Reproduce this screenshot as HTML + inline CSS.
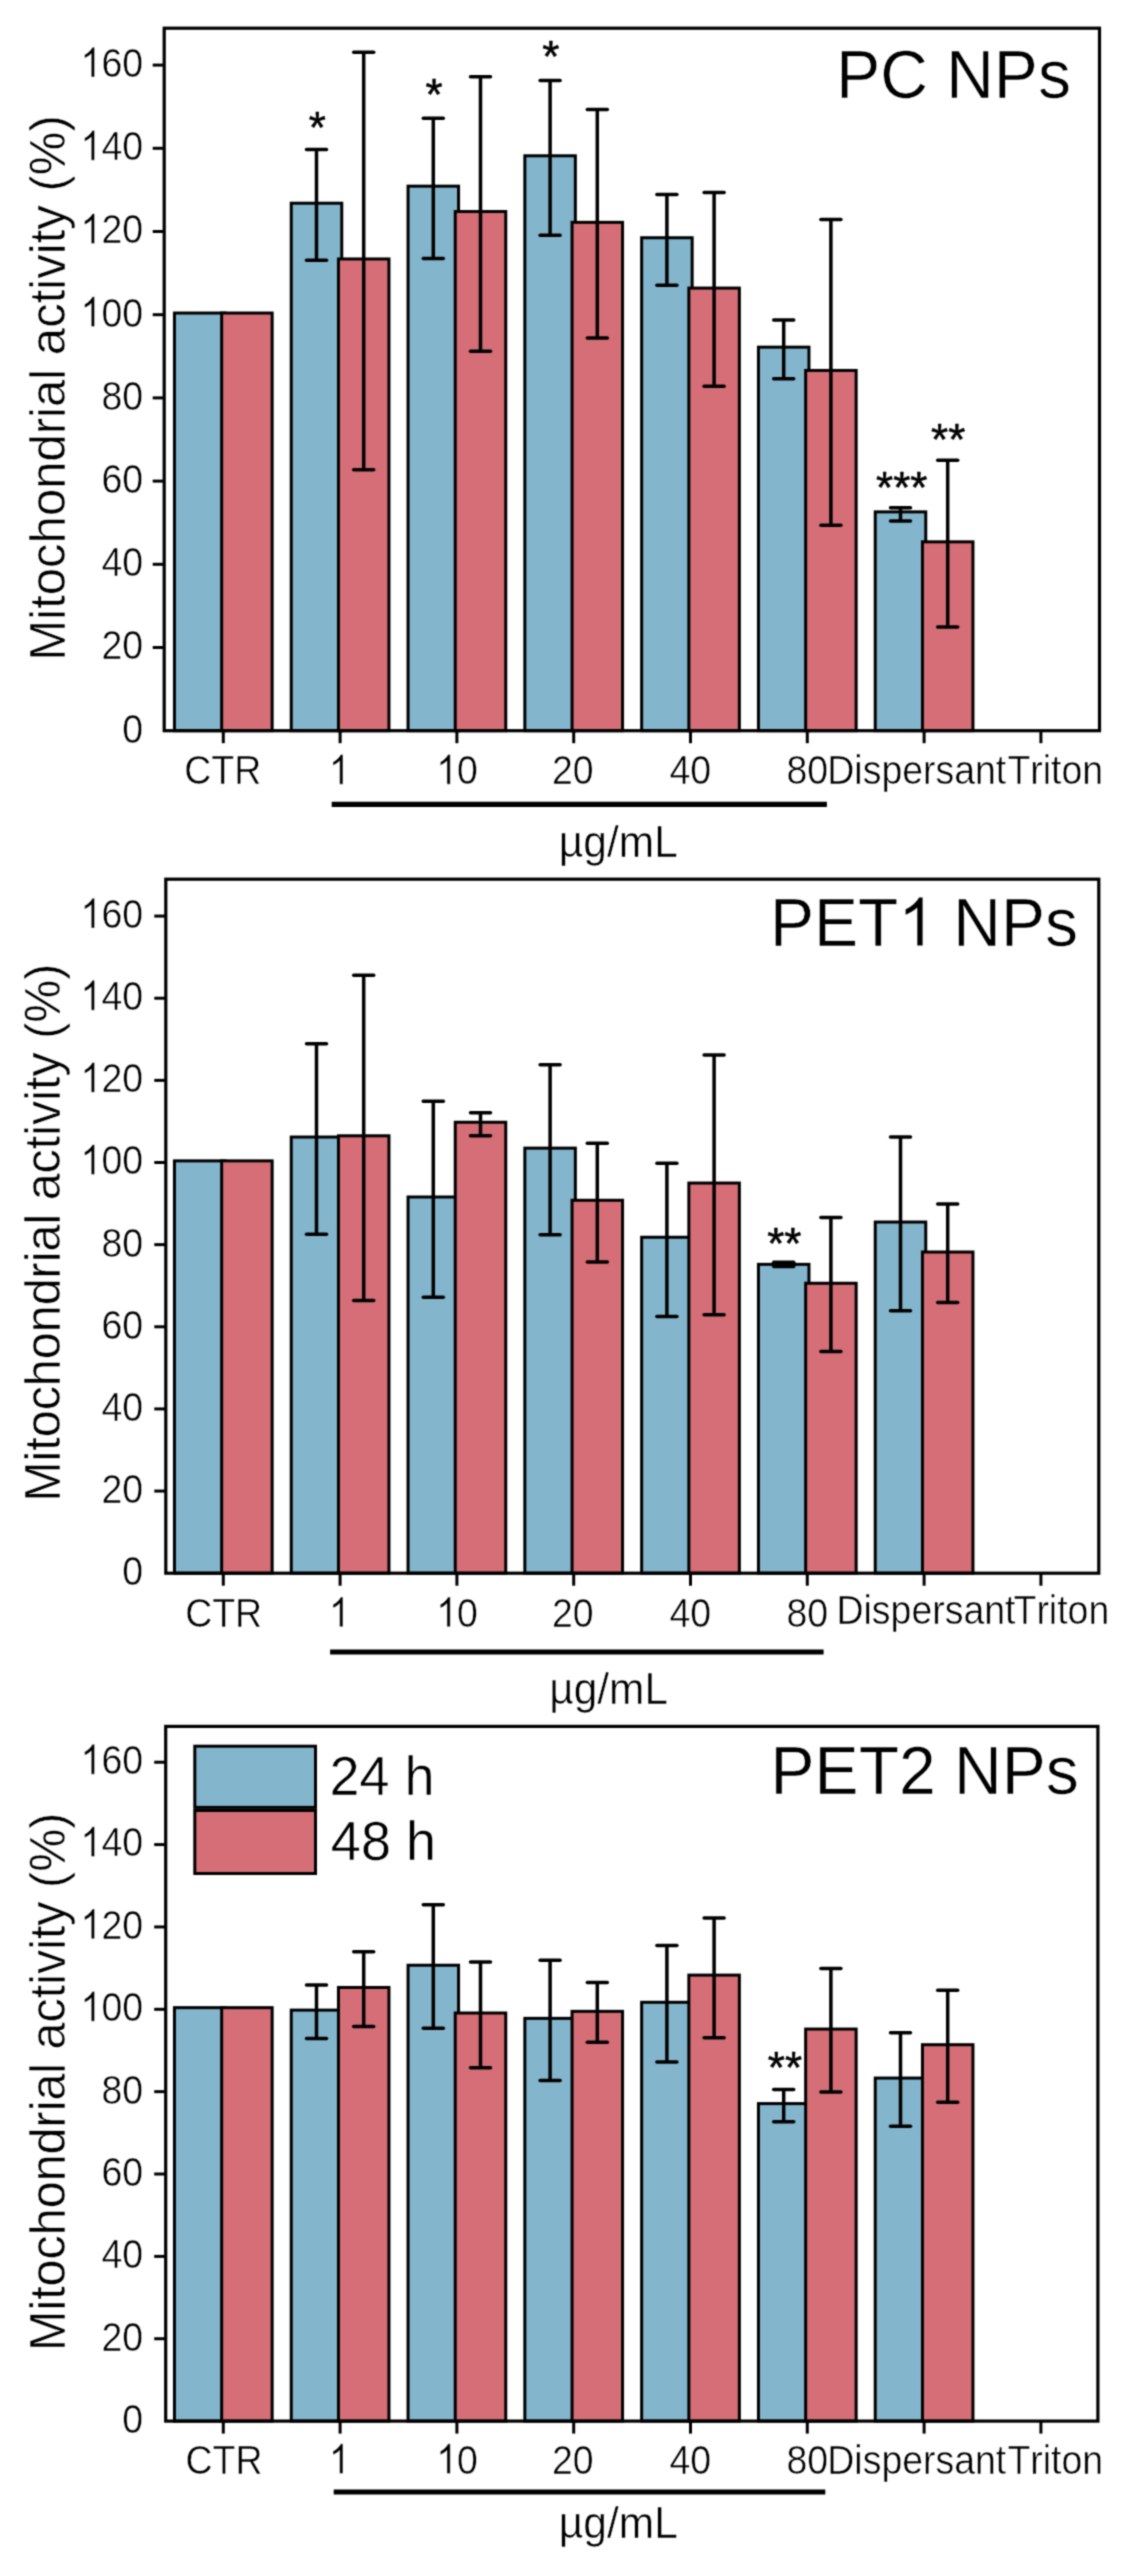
<!DOCTYPE html>
<html><head><meta charset="utf-8"><style>
html,body{margin:0;padding:0;background:#fff;}
svg{display:block;will-change:transform;}
text{font-family:"Liberation Sans", sans-serif;font-kerning:none;fill:#000;white-space:pre;}
</style></head><body>
<svg width="1128" height="2573" viewBox="0 0 1128 2573">
<defs><filter id="soft" x="0" y="0" width="1128" height="2573" filterUnits="userSpaceOnUse" color-interpolation-filters="sRGB"><feConvolveMatrix order="3" kernelMatrix="0.04000 0.12000 0.04000 0.12000 0.36000 0.12000 0.04000 0.12000 0.04000" divisor="1" edgeMode="duplicate" preserveAlpha="true"/></filter></defs>
<g filter="url(#soft)">
<rect width="1128" height="2573" fill="#fff"/>

<rect x="174.45" y="313.04" width="50.50" height="417.66" fill="#83b5cc" stroke="#000" stroke-width="3"/>
<rect x="221.65" y="313.04" width="50.50" height="417.66" fill="#d56e77" stroke="#000" stroke-width="3"/>
<rect x="291.25" y="203.21" width="50.50" height="527.49" fill="#83b5cc" stroke="#000" stroke-width="3"/>
<rect x="338.45" y="258.96" width="50.50" height="471.74" fill="#d56e77" stroke="#000" stroke-width="3"/>
<rect x="408.05" y="186.16" width="50.50" height="544.54" fill="#83b5cc" stroke="#000" stroke-width="3"/>
<rect x="455.25" y="211.53" width="50.50" height="519.17" fill="#d56e77" stroke="#000" stroke-width="3"/>
<rect x="524.85" y="155.79" width="50.50" height="574.91" fill="#83b5cc" stroke="#000" stroke-width="3"/>
<rect x="572.05" y="222.35" width="50.50" height="508.35" fill="#d56e77" stroke="#000" stroke-width="3"/>
<rect x="641.65" y="237.74" width="50.50" height="492.96" fill="#83b5cc" stroke="#000" stroke-width="3"/>
<rect x="688.85" y="288.08" width="50.50" height="442.62" fill="#d56e77" stroke="#000" stroke-width="3"/>
<rect x="758.45" y="347.15" width="50.50" height="383.55" fill="#83b5cc" stroke="#000" stroke-width="3"/>
<rect x="805.65" y="370.44" width="50.50" height="360.26" fill="#d56e77" stroke="#000" stroke-width="3"/>
<rect x="875.25" y="511.88" width="50.50" height="218.82" fill="#83b5cc" stroke="#000" stroke-width="3"/>
<rect x="922.45" y="541.84" width="50.50" height="188.86" fill="#d56e77" stroke="#000" stroke-width="3"/>
<line x1="316.50" y1="260.20" x2="316.50" y2="149.55" stroke="#000" stroke-width="3.5" stroke-linecap="butt"/>
<line x1="306.50" y1="260.20" x2="326.50" y2="260.20" stroke="#000" stroke-width="3.5" stroke-linecap="round"/>
<line x1="306.50" y1="149.55" x2="326.50" y2="149.55" stroke="#000" stroke-width="3.5" stroke-linecap="round"/>
<line x1="363.70" y1="469.87" x2="363.70" y2="52.20" stroke="#000" stroke-width="3.5" stroke-linecap="butt"/>
<line x1="353.70" y1="469.87" x2="373.70" y2="469.87" stroke="#000" stroke-width="3.5" stroke-linecap="round"/>
<line x1="353.70" y1="52.20" x2="373.70" y2="52.20" stroke="#000" stroke-width="3.5" stroke-linecap="round"/>
<line x1="433.30" y1="258.54" x2="433.30" y2="118.35" stroke="#000" stroke-width="3.5" stroke-linecap="butt"/>
<line x1="423.30" y1="258.54" x2="443.30" y2="258.54" stroke="#000" stroke-width="3.5" stroke-linecap="round"/>
<line x1="423.30" y1="118.35" x2="443.30" y2="118.35" stroke="#000" stroke-width="3.5" stroke-linecap="round"/>
<line x1="480.50" y1="351.31" x2="480.50" y2="76.75" stroke="#000" stroke-width="3.5" stroke-linecap="butt"/>
<line x1="470.50" y1="351.31" x2="490.50" y2="351.31" stroke="#000" stroke-width="3.5" stroke-linecap="round"/>
<line x1="470.50" y1="76.75" x2="490.50" y2="76.75" stroke="#000" stroke-width="3.5" stroke-linecap="round"/>
<line x1="550.10" y1="235.24" x2="550.10" y2="80.49" stroke="#000" stroke-width="3.5" stroke-linecap="butt"/>
<line x1="540.10" y1="235.24" x2="560.10" y2="235.24" stroke="#000" stroke-width="3.5" stroke-linecap="round"/>
<line x1="540.10" y1="80.49" x2="560.10" y2="80.49" stroke="#000" stroke-width="3.5" stroke-linecap="round"/>
<line x1="597.30" y1="338.00" x2="597.30" y2="109.61" stroke="#000" stroke-width="3.5" stroke-linecap="butt"/>
<line x1="587.30" y1="338.00" x2="607.30" y2="338.00" stroke="#000" stroke-width="3.5" stroke-linecap="round"/>
<line x1="587.30" y1="109.61" x2="607.30" y2="109.61" stroke="#000" stroke-width="3.5" stroke-linecap="round"/>
<line x1="666.90" y1="285.16" x2="666.90" y2="194.48" stroke="#000" stroke-width="3.5" stroke-linecap="butt"/>
<line x1="656.90" y1="285.16" x2="676.90" y2="285.16" stroke="#000" stroke-width="3.5" stroke-linecap="round"/>
<line x1="656.90" y1="194.48" x2="676.90" y2="194.48" stroke="#000" stroke-width="3.5" stroke-linecap="round"/>
<line x1="714.10" y1="386.25" x2="714.10" y2="192.40" stroke="#000" stroke-width="3.5" stroke-linecap="butt"/>
<line x1="704.10" y1="386.25" x2="724.10" y2="386.25" stroke="#000" stroke-width="3.5" stroke-linecap="round"/>
<line x1="704.10" y1="192.40" x2="724.10" y2="192.40" stroke="#000" stroke-width="3.5" stroke-linecap="round"/>
<line x1="783.70" y1="378.76" x2="783.70" y2="320.11" stroke="#000" stroke-width="3.5" stroke-linecap="butt"/>
<line x1="773.70" y1="378.76" x2="793.70" y2="378.76" stroke="#000" stroke-width="3.5" stroke-linecap="round"/>
<line x1="773.70" y1="320.11" x2="793.70" y2="320.11" stroke="#000" stroke-width="3.5" stroke-linecap="round"/>
<line x1="830.90" y1="525.20" x2="830.90" y2="219.44" stroke="#000" stroke-width="3.5" stroke-linecap="butt"/>
<line x1="820.90" y1="525.20" x2="840.90" y2="525.20" stroke="#000" stroke-width="3.5" stroke-linecap="round"/>
<line x1="820.90" y1="219.44" x2="840.90" y2="219.44" stroke="#000" stroke-width="3.5" stroke-linecap="round"/>
<line x1="900.50" y1="521.04" x2="900.50" y2="507.72" stroke="#000" stroke-width="3.5" stroke-linecap="butt"/>
<line x1="890.50" y1="521.04" x2="910.50" y2="521.04" stroke="#000" stroke-width="3.5" stroke-linecap="round"/>
<line x1="890.50" y1="507.72" x2="910.50" y2="507.72" stroke="#000" stroke-width="3.5" stroke-linecap="round"/>
<line x1="947.70" y1="627.12" x2="947.70" y2="460.30" stroke="#000" stroke-width="3.5" stroke-linecap="butt"/>
<line x1="937.70" y1="627.12" x2="957.70" y2="627.12" stroke="#000" stroke-width="3.5" stroke-linecap="round"/>
<line x1="937.70" y1="460.30" x2="957.70" y2="460.30" stroke="#000" stroke-width="3.5" stroke-linecap="round"/>
<rect x="164.20" y="28.20" width="935.30" height="702.50" fill="none" stroke="#000" stroke-width="3.2"/>
<line x1="152.70" y1="647.50" x2="164.20" y2="647.50" stroke="#000" stroke-width="3" stroke-linecap="butt"/>
<line x1="152.70" y1="564.30" x2="164.20" y2="564.30" stroke="#000" stroke-width="3" stroke-linecap="butt"/>
<line x1="152.70" y1="481.10" x2="164.20" y2="481.10" stroke="#000" stroke-width="3" stroke-linecap="butt"/>
<line x1="152.70" y1="397.90" x2="164.20" y2="397.90" stroke="#000" stroke-width="3" stroke-linecap="butt"/>
<line x1="152.70" y1="314.70" x2="164.20" y2="314.70" stroke="#000" stroke-width="3" stroke-linecap="butt"/>
<line x1="152.70" y1="231.50" x2="164.20" y2="231.50" stroke="#000" stroke-width="3" stroke-linecap="butt"/>
<line x1="152.70" y1="148.30" x2="164.20" y2="148.30" stroke="#000" stroke-width="3" stroke-linecap="butt"/>
<line x1="152.70" y1="65.10" x2="164.20" y2="65.10" stroke="#000" stroke-width="3" stroke-linecap="butt"/>
<text transform="translate(122.23,742.61) scale(0.927,1.025)" font-size="40.4" stroke="#fff" stroke-width="0.5">0</text>
<text transform="translate(101.41,659.41) scale(0.927,1.025)" font-size="40.4" stroke="#fff" stroke-width="0.5">20</text>
<text transform="translate(101.41,576.21) scale(0.927,1.025)" font-size="40.4" stroke="#fff" stroke-width="0.5">40</text>
<text transform="translate(101.41,493.01) scale(0.927,1.025)" font-size="40.4" stroke="#fff" stroke-width="0.5">60</text>
<text transform="translate(101.41,409.81) scale(0.927,1.025)" font-size="40.4" stroke="#fff" stroke-width="0.5">80</text>
<g transform="translate(80.58,326.61) scale(37.4508,41.4100)" stroke="#fff" stroke-width="0.01238"><text x="0.5562" y="0" font-size="1">00</text><path d="M0.3730,0.0000 L0.2850,0.0000 L0.2850,-0.5600 Q0.2530,-0.5300 0.2010,-0.4990 Q0.1490,-0.4690 0.1080,-0.4540 L0.1080,-0.5390 Q0.1820,-0.5740 0.2370,-0.6230 Q0.2920,-0.6720 0.3150,-0.7190 L0.3730,-0.7190Z"/></g>
<g transform="translate(80.58,243.41) scale(37.4508,41.4100)" stroke="#fff" stroke-width="0.01238"><text x="0.5562" y="0" font-size="1">20</text><path d="M0.3730,0.0000 L0.2850,0.0000 L0.2850,-0.5600 Q0.2530,-0.5300 0.2010,-0.4990 Q0.1490,-0.4690 0.1080,-0.4540 L0.1080,-0.5390 Q0.1820,-0.5740 0.2370,-0.6230 Q0.2920,-0.6720 0.3150,-0.7190 L0.3730,-0.7190Z"/></g>
<g transform="translate(80.58,160.21) scale(37.4508,41.4100)" stroke="#fff" stroke-width="0.01238"><text x="0.5562" y="0" font-size="1">40</text><path d="M0.3730,0.0000 L0.2850,0.0000 L0.2850,-0.5600 Q0.2530,-0.5300 0.2010,-0.4990 Q0.1490,-0.4690 0.1080,-0.4540 L0.1080,-0.5390 Q0.1820,-0.5740 0.2370,-0.6230 Q0.2920,-0.6720 0.3150,-0.7190 L0.3730,-0.7190Z"/></g>
<g transform="translate(80.58,77.01) scale(37.4508,41.4100)" stroke="#fff" stroke-width="0.01238"><text x="0.5562" y="0" font-size="1">60</text><path d="M0.3730,0.0000 L0.2850,0.0000 L0.2850,-0.5600 Q0.2530,-0.5300 0.2010,-0.4990 Q0.1490,-0.4690 0.1080,-0.4540 L0.1080,-0.5390 Q0.1820,-0.5740 0.2370,-0.6230 Q0.2920,-0.6720 0.3150,-0.7190 L0.3730,-0.7190Z"/></g>
<line x1="223.30" y1="730.70" x2="223.30" y2="743.20" stroke="#000" stroke-width="3" stroke-linecap="butt"/>
<line x1="340.10" y1="730.70" x2="340.10" y2="743.20" stroke="#000" stroke-width="3" stroke-linecap="butt"/>
<line x1="456.90" y1="730.70" x2="456.90" y2="743.20" stroke="#000" stroke-width="3" stroke-linecap="butt"/>
<line x1="573.70" y1="730.70" x2="573.70" y2="743.20" stroke="#000" stroke-width="3" stroke-linecap="butt"/>
<line x1="690.50" y1="730.70" x2="690.50" y2="743.20" stroke="#000" stroke-width="3" stroke-linecap="butt"/>
<line x1="807.30" y1="730.70" x2="807.30" y2="743.20" stroke="#000" stroke-width="3" stroke-linecap="butt"/>
<line x1="924.10" y1="730.70" x2="924.10" y2="743.20" stroke="#000" stroke-width="3" stroke-linecap="butt"/>
<line x1="1040.90" y1="730.70" x2="1040.90" y2="743.20" stroke="#000" stroke-width="3" stroke-linecap="butt"/>
<text transform="translate(184.33,784.20) scale(0.927,1.025)" font-size="40.4" stroke="#fff" stroke-width="0.5">CTR</text>
<g transform="translate(328.97,784.20) scale(37.4508,41.4100)" stroke="#fff" stroke-width="0.01238"><path d="M0.3730,0.0000 L0.2850,0.0000 L0.2850,-0.5600 Q0.2530,-0.5300 0.2010,-0.4990 Q0.1490,-0.4690 0.1080,-0.4540 L0.1080,-0.5390 Q0.1820,-0.5740 0.2370,-0.6230 Q0.2920,-0.6720 0.3150,-0.7190 L0.3730,-0.7190Z"/></g>
<g transform="translate(436.28,784.20) scale(37.4508,41.4100)" stroke="#fff" stroke-width="0.01238"><text x="0.5562" y="0" font-size="1">0</text><path d="M0.3730,0.0000 L0.2850,0.0000 L0.2850,-0.5600 Q0.2530,-0.5300 0.2010,-0.4990 Q0.1490,-0.4690 0.1080,-0.4540 L0.1080,-0.5390 Q0.1820,-0.5740 0.2370,-0.6230 Q0.2920,-0.6720 0.3150,-0.7190 L0.3730,-0.7190Z"/></g>
<text transform="translate(551.96,784.20) scale(0.927,1.025)" font-size="40.4" stroke="#fff" stroke-width="0.5">20</text>
<text transform="translate(669.47,784.20) scale(0.927,1.025)" font-size="40.4" stroke="#fff" stroke-width="0.5">40</text>
<text transform="translate(786.39,784.20) scale(0.927,1.025)" font-size="40.4" stroke="#fff" stroke-width="0.5">80</text>
<text transform="translate(827.30,784.20) scale(0.927,1.025)" font-size="40.4" stroke="#fff" stroke-width="0.5">Dispersant</text>
<text transform="translate(1007.43,784.20) scale(0.927,1.025)" font-size="40.4" stroke="#fff" stroke-width="0.5">Triton</text>
<line x1="331.70" y1="804.40" x2="826.90" y2="804.40" stroke="#000" stroke-width="5.2" stroke-linecap="butt"/>
<text transform="translate(558.87,856.60) scale(1.0,1.025)" font-size="42.5" stroke="#fff" stroke-width="0.5">µg/mL</text>
<text transform="translate(836.19,98.30) scale(1.0,1.025)" font-size="66" stroke="#fff" stroke-width="0.5">PC NPs</text>
<text transform="translate(308.63,142.60) scale(1.0,1.025)" font-size="44" stroke="#000" stroke-width="0.5">*</text>
<text transform="translate(425.53,109.60) scale(1.0,1.025)" font-size="44" stroke="#000" stroke-width="0.5">*</text>
<text transform="translate(542.33,71.50) scale(1.0,1.025)" font-size="44" stroke="#000" stroke-width="0.5">*</text>
<text transform="translate(876.10,503.00) scale(1.0,1.025)" font-size="44" stroke="#000" stroke-width="0.5">***</text>
<text transform="translate(931.07,455.40) scale(1.0,1.025)" font-size="44" stroke="#000" stroke-width="0.5">**</text>
<text transform="translate(64.90,660.63) rotate(-90) scale(1,1.025)" font-size="49.08" stroke="#fff" stroke-width="0.5">Mitochondrial activity (%)</text>
<rect x="174.45" y="1160.86" width="50.50" height="412.34" fill="#83b5cc" stroke="#000" stroke-width="3"/>
<rect x="221.65" y="1160.86" width="50.50" height="412.34" fill="#d56e77" stroke="#000" stroke-width="3"/>
<rect x="291.25" y="1137.04" width="50.50" height="436.16" fill="#83b5cc" stroke="#000" stroke-width="3"/>
<rect x="338.45" y="1135.80" width="50.50" height="437.40" fill="#d56e77" stroke="#000" stroke-width="3"/>
<rect x="408.05" y="1197.00" width="50.50" height="376.20" fill="#83b5cc" stroke="#000" stroke-width="3"/>
<rect x="455.25" y="1122.25" width="50.50" height="450.95" fill="#d56e77" stroke="#000" stroke-width="3"/>
<rect x="524.85" y="1148.13" width="50.50" height="425.07" fill="#83b5cc" stroke="#000" stroke-width="3"/>
<rect x="572.05" y="1200.28" width="50.50" height="372.92" fill="#d56e77" stroke="#000" stroke-width="3"/>
<rect x="641.65" y="1237.25" width="50.50" height="335.95" fill="#83b5cc" stroke="#000" stroke-width="3"/>
<rect x="688.85" y="1183.04" width="50.50" height="390.16" fill="#d56e77" stroke="#000" stroke-width="3"/>
<rect x="758.45" y="1264.35" width="50.50" height="308.85" fill="#83b5cc" stroke="#000" stroke-width="3"/>
<rect x="805.65" y="1283.25" width="50.50" height="289.95" fill="#d56e77" stroke="#000" stroke-width="3"/>
<rect x="875.25" y="1222.05" width="50.50" height="351.15" fill="#83b5cc" stroke="#000" stroke-width="3"/>
<rect x="922.45" y="1252.03" width="50.50" height="321.17" fill="#d56e77" stroke="#000" stroke-width="3"/>
<line x1="316.50" y1="1234.37" x2="316.50" y2="1043.81" stroke="#000" stroke-width="3.5" stroke-linecap="butt"/>
<line x1="306.50" y1="1234.37" x2="326.50" y2="1234.37" stroke="#000" stroke-width="3.5" stroke-linecap="round"/>
<line x1="306.50" y1="1043.81" x2="326.50" y2="1043.81" stroke="#000" stroke-width="3.5" stroke-linecap="round"/>
<line x1="363.70" y1="1300.50" x2="363.70" y2="975.22" stroke="#000" stroke-width="3.5" stroke-linecap="butt"/>
<line x1="353.70" y1="1300.50" x2="373.70" y2="1300.50" stroke="#000" stroke-width="3.5" stroke-linecap="round"/>
<line x1="353.70" y1="975.22" x2="373.70" y2="975.22" stroke="#000" stroke-width="3.5" stroke-linecap="round"/>
<line x1="433.30" y1="1297.21" x2="433.30" y2="1101.31" stroke="#000" stroke-width="3.5" stroke-linecap="butt"/>
<line x1="423.30" y1="1297.21" x2="443.30" y2="1297.21" stroke="#000" stroke-width="3.5" stroke-linecap="round"/>
<line x1="423.30" y1="1101.31" x2="443.30" y2="1101.31" stroke="#000" stroke-width="3.5" stroke-linecap="round"/>
<line x1="480.50" y1="1135.80" x2="480.50" y2="1112.81" stroke="#000" stroke-width="3.5" stroke-linecap="butt"/>
<line x1="470.50" y1="1135.80" x2="490.50" y2="1135.80" stroke="#000" stroke-width="3.5" stroke-linecap="round"/>
<line x1="470.50" y1="1112.81" x2="490.50" y2="1112.81" stroke="#000" stroke-width="3.5" stroke-linecap="round"/>
<line x1="550.10" y1="1234.78" x2="550.10" y2="1064.75" stroke="#000" stroke-width="3.5" stroke-linecap="butt"/>
<line x1="540.10" y1="1234.78" x2="560.10" y2="1234.78" stroke="#000" stroke-width="3.5" stroke-linecap="round"/>
<line x1="540.10" y1="1064.75" x2="560.10" y2="1064.75" stroke="#000" stroke-width="3.5" stroke-linecap="round"/>
<line x1="597.30" y1="1261.89" x2="597.30" y2="1143.20" stroke="#000" stroke-width="3.5" stroke-linecap="butt"/>
<line x1="587.30" y1="1261.89" x2="607.30" y2="1261.89" stroke="#000" stroke-width="3.5" stroke-linecap="round"/>
<line x1="587.30" y1="1143.20" x2="607.30" y2="1143.20" stroke="#000" stroke-width="3.5" stroke-linecap="round"/>
<line x1="666.90" y1="1316.51" x2="666.90" y2="1163.32" stroke="#000" stroke-width="3.5" stroke-linecap="butt"/>
<line x1="656.90" y1="1316.51" x2="676.90" y2="1316.51" stroke="#000" stroke-width="3.5" stroke-linecap="round"/>
<line x1="656.90" y1="1163.32" x2="676.90" y2="1163.32" stroke="#000" stroke-width="3.5" stroke-linecap="round"/>
<line x1="714.10" y1="1314.87" x2="714.10" y2="1054.90" stroke="#000" stroke-width="3.5" stroke-linecap="butt"/>
<line x1="704.10" y1="1314.87" x2="724.10" y2="1314.87" stroke="#000" stroke-width="3.5" stroke-linecap="round"/>
<line x1="704.10" y1="1054.90" x2="724.10" y2="1054.90" stroke="#000" stroke-width="3.5" stroke-linecap="round"/>
<line x1="783.70" y1="1266.41" x2="783.70" y2="1262.30" stroke="#000" stroke-width="3.5" stroke-linecap="butt"/>
<line x1="773.70" y1="1266.41" x2="793.70" y2="1266.41" stroke="#000" stroke-width="3.5" stroke-linecap="round"/>
<line x1="773.70" y1="1262.30" x2="793.70" y2="1262.30" stroke="#000" stroke-width="3.5" stroke-linecap="round"/>
<line x1="830.90" y1="1351.42" x2="830.90" y2="1217.53" stroke="#000" stroke-width="3.5" stroke-linecap="butt"/>
<line x1="820.90" y1="1351.42" x2="840.90" y2="1351.42" stroke="#000" stroke-width="3.5" stroke-linecap="round"/>
<line x1="820.90" y1="1217.53" x2="840.90" y2="1217.53" stroke="#000" stroke-width="3.5" stroke-linecap="round"/>
<line x1="900.50" y1="1310.76" x2="900.50" y2="1137.04" stroke="#000" stroke-width="3.5" stroke-linecap="butt"/>
<line x1="890.50" y1="1310.76" x2="910.50" y2="1310.76" stroke="#000" stroke-width="3.5" stroke-linecap="round"/>
<line x1="890.50" y1="1137.04" x2="910.50" y2="1137.04" stroke="#000" stroke-width="3.5" stroke-linecap="round"/>
<line x1="947.70" y1="1302.55" x2="947.70" y2="1203.98" stroke="#000" stroke-width="3.5" stroke-linecap="butt"/>
<line x1="937.70" y1="1302.55" x2="957.70" y2="1302.55" stroke="#000" stroke-width="3.5" stroke-linecap="round"/>
<line x1="937.70" y1="1203.98" x2="957.70" y2="1203.98" stroke="#000" stroke-width="3.5" stroke-linecap="round"/>
<rect x="165.80" y="879.20" width="933.00" height="694.00" fill="none" stroke="#000" stroke-width="3.2"/>
<line x1="154.30" y1="1491.06" x2="165.80" y2="1491.06" stroke="#000" stroke-width="3" stroke-linecap="butt"/>
<line x1="154.30" y1="1408.92" x2="165.80" y2="1408.92" stroke="#000" stroke-width="3" stroke-linecap="butt"/>
<line x1="154.30" y1="1326.78" x2="165.80" y2="1326.78" stroke="#000" stroke-width="3" stroke-linecap="butt"/>
<line x1="154.30" y1="1244.64" x2="165.80" y2="1244.64" stroke="#000" stroke-width="3" stroke-linecap="butt"/>
<line x1="154.30" y1="1162.50" x2="165.80" y2="1162.50" stroke="#000" stroke-width="3" stroke-linecap="butt"/>
<line x1="154.30" y1="1080.36" x2="165.80" y2="1080.36" stroke="#000" stroke-width="3" stroke-linecap="butt"/>
<line x1="154.30" y1="998.22" x2="165.80" y2="998.22" stroke="#000" stroke-width="3" stroke-linecap="butt"/>
<line x1="154.30" y1="916.08" x2="165.80" y2="916.08" stroke="#000" stroke-width="3" stroke-linecap="butt"/>
<text transform="translate(122.23,1585.11) scale(0.927,1.025)" font-size="40.4" stroke="#fff" stroke-width="0.5">0</text>
<text transform="translate(101.41,1502.97) scale(0.927,1.025)" font-size="40.4" stroke="#fff" stroke-width="0.5">20</text>
<text transform="translate(101.41,1420.83) scale(0.927,1.025)" font-size="40.4" stroke="#fff" stroke-width="0.5">40</text>
<text transform="translate(101.41,1338.69) scale(0.927,1.025)" font-size="40.4" stroke="#fff" stroke-width="0.5">60</text>
<text transform="translate(101.41,1256.55) scale(0.927,1.025)" font-size="40.4" stroke="#fff" stroke-width="0.5">80</text>
<g transform="translate(80.58,1174.41) scale(37.4508,41.4100)" stroke="#fff" stroke-width="0.01238"><text x="0.5562" y="0" font-size="1">00</text><path d="M0.3730,0.0000 L0.2850,0.0000 L0.2850,-0.5600 Q0.2530,-0.5300 0.2010,-0.4990 Q0.1490,-0.4690 0.1080,-0.4540 L0.1080,-0.5390 Q0.1820,-0.5740 0.2370,-0.6230 Q0.2920,-0.6720 0.3150,-0.7190 L0.3730,-0.7190Z"/></g>
<g transform="translate(80.58,1092.27) scale(37.4508,41.4100)" stroke="#fff" stroke-width="0.01238"><text x="0.5562" y="0" font-size="1">20</text><path d="M0.3730,0.0000 L0.2850,0.0000 L0.2850,-0.5600 Q0.2530,-0.5300 0.2010,-0.4990 Q0.1490,-0.4690 0.1080,-0.4540 L0.1080,-0.5390 Q0.1820,-0.5740 0.2370,-0.6230 Q0.2920,-0.6720 0.3150,-0.7190 L0.3730,-0.7190Z"/></g>
<g transform="translate(80.58,1010.13) scale(37.4508,41.4100)" stroke="#fff" stroke-width="0.01238"><text x="0.5562" y="0" font-size="1">40</text><path d="M0.3730,0.0000 L0.2850,0.0000 L0.2850,-0.5600 Q0.2530,-0.5300 0.2010,-0.4990 Q0.1490,-0.4690 0.1080,-0.4540 L0.1080,-0.5390 Q0.1820,-0.5740 0.2370,-0.6230 Q0.2920,-0.6720 0.3150,-0.7190 L0.3730,-0.7190Z"/></g>
<g transform="translate(80.58,927.99) scale(37.4508,41.4100)" stroke="#fff" stroke-width="0.01238"><text x="0.5562" y="0" font-size="1">60</text><path d="M0.3730,0.0000 L0.2850,0.0000 L0.2850,-0.5600 Q0.2530,-0.5300 0.2010,-0.4990 Q0.1490,-0.4690 0.1080,-0.4540 L0.1080,-0.5390 Q0.1820,-0.5740 0.2370,-0.6230 Q0.2920,-0.6720 0.3150,-0.7190 L0.3730,-0.7190Z"/></g>
<line x1="223.30" y1="1573.20" x2="223.30" y2="1585.70" stroke="#000" stroke-width="3" stroke-linecap="butt"/>
<line x1="340.10" y1="1573.20" x2="340.10" y2="1585.70" stroke="#000" stroke-width="3" stroke-linecap="butt"/>
<line x1="456.90" y1="1573.20" x2="456.90" y2="1585.70" stroke="#000" stroke-width="3" stroke-linecap="butt"/>
<line x1="573.70" y1="1573.20" x2="573.70" y2="1585.70" stroke="#000" stroke-width="3" stroke-linecap="butt"/>
<line x1="690.50" y1="1573.20" x2="690.50" y2="1585.70" stroke="#000" stroke-width="3" stroke-linecap="butt"/>
<line x1="807.30" y1="1573.20" x2="807.30" y2="1585.70" stroke="#000" stroke-width="3" stroke-linecap="butt"/>
<line x1="924.10" y1="1573.20" x2="924.10" y2="1585.70" stroke="#000" stroke-width="3" stroke-linecap="butt"/>
<line x1="1040.90" y1="1573.20" x2="1040.90" y2="1585.70" stroke="#000" stroke-width="3" stroke-linecap="butt"/>
<text transform="translate(185.13,1626.80) scale(0.927,1.025)" font-size="40.4" stroke="#fff" stroke-width="0.5">CTR</text>
<g transform="translate(328.97,1626.80) scale(37.4508,41.4100)" stroke="#fff" stroke-width="0.01238"><path d="M0.3730,0.0000 L0.2850,0.0000 L0.2850,-0.5600 Q0.2530,-0.5300 0.2010,-0.4990 Q0.1490,-0.4690 0.1080,-0.4540 L0.1080,-0.5390 Q0.1820,-0.5740 0.2370,-0.6230 Q0.2920,-0.6720 0.3150,-0.7190 L0.3730,-0.7190Z"/></g>
<g transform="translate(436.28,1626.80) scale(37.4508,41.4100)" stroke="#fff" stroke-width="0.01238"><text x="0.5562" y="0" font-size="1">0</text><path d="M0.3730,0.0000 L0.2850,0.0000 L0.2850,-0.5600 Q0.2530,-0.5300 0.2010,-0.4990 Q0.1490,-0.4690 0.1080,-0.4540 L0.1080,-0.5390 Q0.1820,-0.5740 0.2370,-0.6230 Q0.2920,-0.6720 0.3150,-0.7190 L0.3730,-0.7190Z"/></g>
<text transform="translate(551.96,1626.80) scale(0.927,1.025)" font-size="40.4" stroke="#fff" stroke-width="0.5">20</text>
<text transform="translate(669.47,1626.80) scale(0.927,1.025)" font-size="40.4" stroke="#fff" stroke-width="0.5">40</text>
<text transform="translate(786.39,1626.80) scale(0.927,1.025)" font-size="40.4" stroke="#fff" stroke-width="0.5">80</text>
<text transform="translate(836.50,1624.30) scale(0.927,1.025)" font-size="40.4" stroke="#fff" stroke-width="0.5">Dispersant</text>
<text transform="translate(1013.53,1624.30) scale(0.927,1.025)" font-size="40.4" stroke="#fff" stroke-width="0.5">Triton</text>
<line x1="330.10" y1="1652.00" x2="823.60" y2="1652.00" stroke="#000" stroke-width="5.2" stroke-linecap="butt"/>
<text transform="translate(549.17,1703.80) scale(1.0,1.025)" font-size="42.5" stroke="#fff" stroke-width="0.5">µg/mL</text>
<g transform="translate(769.89,945.80) scale(66.0000,67.6500)" stroke="#fff" stroke-width="0.00758"><text x="0.0000" y="0" font-size="1">PET</text><text x="2.5010" y="0" font-size="1"> NPs</text><path d="M2.3178,0.0000 L2.2298,0.0000 L2.2298,-0.5600 Q2.1978,-0.5300 2.1458,-0.4990 Q2.0938,-0.4690 2.0528,-0.4540 L2.0528,-0.5390 Q2.1268,-0.5740 2.1818,-0.6230 Q2.2368,-0.6720 2.2598,-0.7190 L2.3178,-0.7190Z"/></g>
<text transform="translate(767.17,1259.00) scale(1.0,1.025)" font-size="44" stroke="#000" stroke-width="0.5">**</text>
<text transform="translate(60.00,1501.87) rotate(-90) scale(1,1.025)" font-size="48.45" stroke="#fff" stroke-width="0.5">Mitochondrial activity (%)</text>
<rect x="174.45" y="2007.65" width="50.50" height="413.45" fill="#83b5cc" stroke="#000" stroke-width="3"/>
<rect x="221.65" y="2007.65" width="50.50" height="413.45" fill="#d56e77" stroke="#000" stroke-width="3"/>
<rect x="291.25" y="2010.12" width="50.50" height="410.98" fill="#83b5cc" stroke="#000" stroke-width="3"/>
<rect x="338.45" y="1987.47" width="50.50" height="433.63" fill="#d56e77" stroke="#000" stroke-width="3"/>
<rect x="408.05" y="1965.24" width="50.50" height="455.86" fill="#83b5cc" stroke="#000" stroke-width="3"/>
<rect x="455.25" y="2013.01" width="50.50" height="408.09" fill="#d56e77" stroke="#000" stroke-width="3"/>
<rect x="524.85" y="2018.36" width="50.50" height="402.74" fill="#83b5cc" stroke="#000" stroke-width="3"/>
<rect x="572.05" y="2011.36" width="50.50" height="409.74" fill="#d56e77" stroke="#000" stroke-width="3"/>
<rect x="641.65" y="2002.30" width="50.50" height="418.80" fill="#83b5cc" stroke="#000" stroke-width="3"/>
<rect x="688.85" y="1975.12" width="50.50" height="445.98" fill="#d56e77" stroke="#000" stroke-width="3"/>
<rect x="758.45" y="2103.60" width="50.50" height="317.50" fill="#83b5cc" stroke="#000" stroke-width="3"/>
<rect x="805.65" y="2029.07" width="50.50" height="392.03" fill="#d56e77" stroke="#000" stroke-width="3"/>
<rect x="875.25" y="2078.07" width="50.50" height="343.03" fill="#83b5cc" stroke="#000" stroke-width="3"/>
<rect x="922.45" y="2044.71" width="50.50" height="376.39" fill="#d56e77" stroke="#000" stroke-width="3"/>
<line x1="316.50" y1="2038.54" x2="316.50" y2="1985.00" stroke="#000" stroke-width="3.5" stroke-linecap="butt"/>
<line x1="306.50" y1="2038.54" x2="326.50" y2="2038.54" stroke="#000" stroke-width="3.5" stroke-linecap="round"/>
<line x1="306.50" y1="1985.00" x2="326.50" y2="1985.00" stroke="#000" stroke-width="3.5" stroke-linecap="round"/>
<line x1="363.70" y1="2026.60" x2="363.70" y2="1951.65" stroke="#000" stroke-width="3.5" stroke-linecap="butt"/>
<line x1="353.70" y1="2026.60" x2="373.70" y2="2026.60" stroke="#000" stroke-width="3.5" stroke-linecap="round"/>
<line x1="353.70" y1="1951.65" x2="373.70" y2="1951.65" stroke="#000" stroke-width="3.5" stroke-linecap="round"/>
<line x1="433.30" y1="2028.24" x2="433.30" y2="1904.70" stroke="#000" stroke-width="3.5" stroke-linecap="butt"/>
<line x1="423.30" y1="2028.24" x2="443.30" y2="2028.24" stroke="#000" stroke-width="3.5" stroke-linecap="round"/>
<line x1="423.30" y1="1904.70" x2="443.30" y2="1904.70" stroke="#000" stroke-width="3.5" stroke-linecap="round"/>
<line x1="480.50" y1="2067.78" x2="480.50" y2="1961.94" stroke="#000" stroke-width="3.5" stroke-linecap="butt"/>
<line x1="470.50" y1="2067.78" x2="490.50" y2="2067.78" stroke="#000" stroke-width="3.5" stroke-linecap="round"/>
<line x1="470.50" y1="1961.94" x2="490.50" y2="1961.94" stroke="#000" stroke-width="3.5" stroke-linecap="round"/>
<line x1="550.10" y1="2080.54" x2="550.10" y2="1960.30" stroke="#000" stroke-width="3.5" stroke-linecap="butt"/>
<line x1="540.10" y1="2080.54" x2="560.10" y2="2080.54" stroke="#000" stroke-width="3.5" stroke-linecap="round"/>
<line x1="540.10" y1="1960.30" x2="560.10" y2="1960.30" stroke="#000" stroke-width="3.5" stroke-linecap="round"/>
<line x1="597.30" y1="2042.24" x2="597.30" y2="1982.53" stroke="#000" stroke-width="3.5" stroke-linecap="butt"/>
<line x1="587.30" y1="2042.24" x2="607.30" y2="2042.24" stroke="#000" stroke-width="3.5" stroke-linecap="round"/>
<line x1="587.30" y1="1982.53" x2="607.30" y2="1982.53" stroke="#000" stroke-width="3.5" stroke-linecap="round"/>
<line x1="666.90" y1="2062.01" x2="666.90" y2="1945.47" stroke="#000" stroke-width="3.5" stroke-linecap="butt"/>
<line x1="656.90" y1="2062.01" x2="676.90" y2="2062.01" stroke="#000" stroke-width="3.5" stroke-linecap="round"/>
<line x1="656.90" y1="1945.47" x2="676.90" y2="1945.47" stroke="#000" stroke-width="3.5" stroke-linecap="round"/>
<line x1="714.10" y1="2037.71" x2="714.10" y2="1917.88" stroke="#000" stroke-width="3.5" stroke-linecap="butt"/>
<line x1="704.10" y1="2037.71" x2="724.10" y2="2037.71" stroke="#000" stroke-width="3.5" stroke-linecap="round"/>
<line x1="704.10" y1="1917.88" x2="724.10" y2="1917.88" stroke="#000" stroke-width="3.5" stroke-linecap="round"/>
<line x1="783.70" y1="2121.72" x2="783.70" y2="2089.60" stroke="#000" stroke-width="3.5" stroke-linecap="butt"/>
<line x1="773.70" y1="2121.72" x2="793.70" y2="2121.72" stroke="#000" stroke-width="3.5" stroke-linecap="round"/>
<line x1="773.70" y1="2089.60" x2="793.70" y2="2089.60" stroke="#000" stroke-width="3.5" stroke-linecap="round"/>
<line x1="830.90" y1="2092.07" x2="830.90" y2="1968.53" stroke="#000" stroke-width="3.5" stroke-linecap="butt"/>
<line x1="820.90" y1="2092.07" x2="840.90" y2="2092.07" stroke="#000" stroke-width="3.5" stroke-linecap="round"/>
<line x1="820.90" y1="1968.53" x2="840.90" y2="1968.53" stroke="#000" stroke-width="3.5" stroke-linecap="round"/>
<line x1="900.50" y1="2126.25" x2="900.50" y2="2032.77" stroke="#000" stroke-width="3.5" stroke-linecap="butt"/>
<line x1="890.50" y1="2126.25" x2="910.50" y2="2126.25" stroke="#000" stroke-width="3.5" stroke-linecap="round"/>
<line x1="890.50" y1="2032.77" x2="910.50" y2="2032.77" stroke="#000" stroke-width="3.5" stroke-linecap="round"/>
<line x1="947.70" y1="2102.37" x2="947.70" y2="1990.36" stroke="#000" stroke-width="3.5" stroke-linecap="butt"/>
<line x1="937.70" y1="2102.37" x2="957.70" y2="2102.37" stroke="#000" stroke-width="3.5" stroke-linecap="round"/>
<line x1="937.70" y1="1990.36" x2="957.70" y2="1990.36" stroke="#000" stroke-width="3.5" stroke-linecap="round"/>
<rect x="165.70" y="1726.40" width="932.20" height="694.70" fill="none" stroke="#000" stroke-width="3.2"/>
<line x1="154.20" y1="2338.74" x2="165.70" y2="2338.74" stroke="#000" stroke-width="3" stroke-linecap="butt"/>
<line x1="154.20" y1="2256.38" x2="165.70" y2="2256.38" stroke="#000" stroke-width="3" stroke-linecap="butt"/>
<line x1="154.20" y1="2174.02" x2="165.70" y2="2174.02" stroke="#000" stroke-width="3" stroke-linecap="butt"/>
<line x1="154.20" y1="2091.66" x2="165.70" y2="2091.66" stroke="#000" stroke-width="3" stroke-linecap="butt"/>
<line x1="154.20" y1="2009.30" x2="165.70" y2="2009.30" stroke="#000" stroke-width="3" stroke-linecap="butt"/>
<line x1="154.20" y1="1926.94" x2="165.70" y2="1926.94" stroke="#000" stroke-width="3" stroke-linecap="butt"/>
<line x1="154.20" y1="1844.58" x2="165.70" y2="1844.58" stroke="#000" stroke-width="3" stroke-linecap="butt"/>
<line x1="154.20" y1="1762.22" x2="165.70" y2="1762.22" stroke="#000" stroke-width="3" stroke-linecap="butt"/>
<text transform="translate(122.23,2433.01) scale(0.927,1.025)" font-size="40.4" stroke="#fff" stroke-width="0.5">0</text>
<text transform="translate(101.41,2350.65) scale(0.927,1.025)" font-size="40.4" stroke="#fff" stroke-width="0.5">20</text>
<text transform="translate(101.41,2268.29) scale(0.927,1.025)" font-size="40.4" stroke="#fff" stroke-width="0.5">40</text>
<text transform="translate(101.41,2185.93) scale(0.927,1.025)" font-size="40.4" stroke="#fff" stroke-width="0.5">60</text>
<text transform="translate(101.41,2103.57) scale(0.927,1.025)" font-size="40.4" stroke="#fff" stroke-width="0.5">80</text>
<g transform="translate(80.58,2021.21) scale(37.4508,41.4100)" stroke="#fff" stroke-width="0.01238"><text x="0.5562" y="0" font-size="1">00</text><path d="M0.3730,0.0000 L0.2850,0.0000 L0.2850,-0.5600 Q0.2530,-0.5300 0.2010,-0.4990 Q0.1490,-0.4690 0.1080,-0.4540 L0.1080,-0.5390 Q0.1820,-0.5740 0.2370,-0.6230 Q0.2920,-0.6720 0.3150,-0.7190 L0.3730,-0.7190Z"/></g>
<g transform="translate(80.58,1938.85) scale(37.4508,41.4100)" stroke="#fff" stroke-width="0.01238"><text x="0.5562" y="0" font-size="1">20</text><path d="M0.3730,0.0000 L0.2850,0.0000 L0.2850,-0.5600 Q0.2530,-0.5300 0.2010,-0.4990 Q0.1490,-0.4690 0.1080,-0.4540 L0.1080,-0.5390 Q0.1820,-0.5740 0.2370,-0.6230 Q0.2920,-0.6720 0.3150,-0.7190 L0.3730,-0.7190Z"/></g>
<g transform="translate(80.58,1856.49) scale(37.4508,41.4100)" stroke="#fff" stroke-width="0.01238"><text x="0.5562" y="0" font-size="1">40</text><path d="M0.3730,0.0000 L0.2850,0.0000 L0.2850,-0.5600 Q0.2530,-0.5300 0.2010,-0.4990 Q0.1490,-0.4690 0.1080,-0.4540 L0.1080,-0.5390 Q0.1820,-0.5740 0.2370,-0.6230 Q0.2920,-0.6720 0.3150,-0.7190 L0.3730,-0.7190Z"/></g>
<g transform="translate(80.58,1774.13) scale(37.4508,41.4100)" stroke="#fff" stroke-width="0.01238"><text x="0.5562" y="0" font-size="1">60</text><path d="M0.3730,0.0000 L0.2850,0.0000 L0.2850,-0.5600 Q0.2530,-0.5300 0.2010,-0.4990 Q0.1490,-0.4690 0.1080,-0.4540 L0.1080,-0.5390 Q0.1820,-0.5740 0.2370,-0.6230 Q0.2920,-0.6720 0.3150,-0.7190 L0.3730,-0.7190Z"/></g>
<line x1="223.30" y1="2421.10" x2="223.30" y2="2433.60" stroke="#000" stroke-width="3" stroke-linecap="butt"/>
<line x1="340.10" y1="2421.10" x2="340.10" y2="2433.60" stroke="#000" stroke-width="3" stroke-linecap="butt"/>
<line x1="456.90" y1="2421.10" x2="456.90" y2="2433.60" stroke="#000" stroke-width="3" stroke-linecap="butt"/>
<line x1="573.70" y1="2421.10" x2="573.70" y2="2433.60" stroke="#000" stroke-width="3" stroke-linecap="butt"/>
<line x1="690.50" y1="2421.10" x2="690.50" y2="2433.60" stroke="#000" stroke-width="3" stroke-linecap="butt"/>
<line x1="807.30" y1="2421.10" x2="807.30" y2="2433.60" stroke="#000" stroke-width="3" stroke-linecap="butt"/>
<line x1="924.10" y1="2421.10" x2="924.10" y2="2433.60" stroke="#000" stroke-width="3" stroke-linecap="butt"/>
<line x1="1040.90" y1="2421.10" x2="1040.90" y2="2433.60" stroke="#000" stroke-width="3" stroke-linecap="butt"/>
<text transform="translate(185.53,2473.60) scale(0.927,1.025)" font-size="40.4" stroke="#fff" stroke-width="0.5">CTR</text>
<g transform="translate(328.97,2473.60) scale(37.4508,41.4100)" stroke="#fff" stroke-width="0.01238"><path d="M0.3730,0.0000 L0.2850,0.0000 L0.2850,-0.5600 Q0.2530,-0.5300 0.2010,-0.4990 Q0.1490,-0.4690 0.1080,-0.4540 L0.1080,-0.5390 Q0.1820,-0.5740 0.2370,-0.6230 Q0.2920,-0.6720 0.3150,-0.7190 L0.3730,-0.7190Z"/></g>
<g transform="translate(436.28,2473.60) scale(37.4508,41.4100)" stroke="#fff" stroke-width="0.01238"><text x="0.5562" y="0" font-size="1">0</text><path d="M0.3730,0.0000 L0.2850,0.0000 L0.2850,-0.5600 Q0.2530,-0.5300 0.2010,-0.4990 Q0.1490,-0.4690 0.1080,-0.4540 L0.1080,-0.5390 Q0.1820,-0.5740 0.2370,-0.6230 Q0.2920,-0.6720 0.3150,-0.7190 L0.3730,-0.7190Z"/></g>
<text transform="translate(551.96,2473.60) scale(0.927,1.025)" font-size="40.4" stroke="#fff" stroke-width="0.5">20</text>
<text transform="translate(669.47,2473.60) scale(0.927,1.025)" font-size="40.4" stroke="#fff" stroke-width="0.5">40</text>
<text transform="translate(786.39,2473.60) scale(0.927,1.025)" font-size="40.4" stroke="#fff" stroke-width="0.5">80</text>
<text transform="translate(827.30,2473.60) scale(0.927,1.025)" font-size="40.4" stroke="#fff" stroke-width="0.5">Dispersant</text>
<text transform="translate(1007.43,2473.60) scale(0.927,1.025)" font-size="40.4" stroke="#fff" stroke-width="0.5">Triton</text>
<line x1="333.70" y1="2492.00" x2="825.30" y2="2492.00" stroke="#000" stroke-width="5.2" stroke-linecap="butt"/>
<text transform="translate(558.87,2537.50) scale(1.0,1.025)" font-size="42.5" stroke="#fff" stroke-width="0.5">µg/mL</text>
<text transform="translate(770.59,1794.00) scale(1.0,1.025)" font-size="66" stroke="#fff" stroke-width="0.5">PET2 NPs</text>
<text transform="translate(767.87,2082.50) scale(1.0,1.025)" font-size="44" stroke="#000" stroke-width="0.5">**</text>
<text transform="translate(64.90,2350.97) rotate(-90) scale(1,1.025)" font-size="48.45" stroke="#fff" stroke-width="0.5">Mitochondrial activity (%)</text>
<rect x="194.80" y="1746.20" width="120.70" height="61.20" fill="#83b5cc" stroke="#000" stroke-width="3"/>
<rect x="194.80" y="1810.50" width="120.70" height="63.00" fill="#d56e77" stroke="#000" stroke-width="3"/>
<text transform="translate(329.38,1794.50) scale(1.0,1.025)" font-size="54" stroke="#fff" stroke-width="0.5">24 h</text>
<text transform="translate(330.86,1859.60) scale(1.0,1.025)" font-size="54" stroke="#fff" stroke-width="0.5">48 h</text>
</g>
</svg></body></html>
